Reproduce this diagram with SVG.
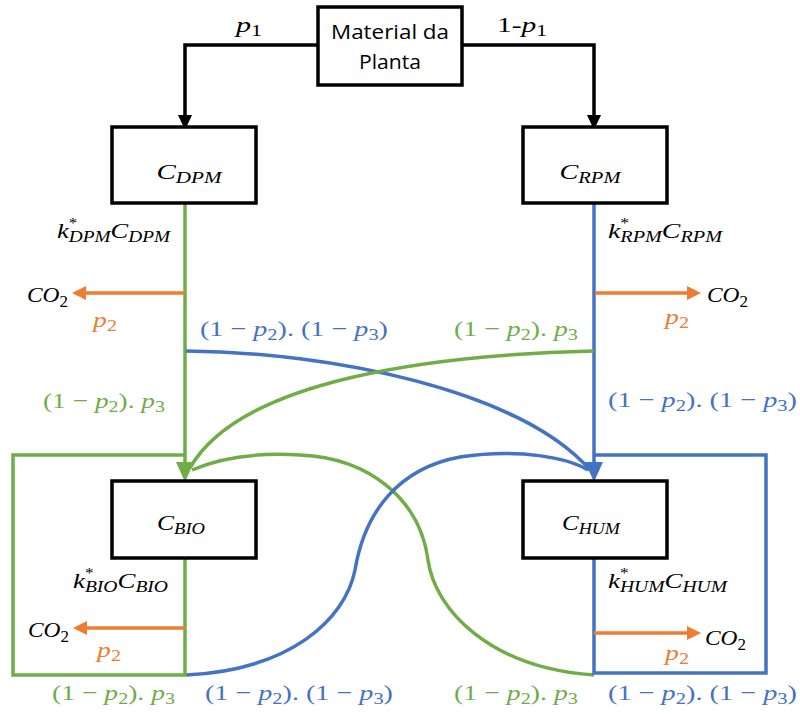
<svg xmlns="http://www.w3.org/2000/svg" width="800" height="715" viewBox="0 0 800 715">
<style>
.box{fill:#fff;stroke:#000;stroke-width:3.5}
.k{stroke:#000;stroke-width:3.5;fill:none}
.g{stroke:#70AD47;stroke-width:3.5;fill:none}
.b{stroke:#4472C4;stroke-width:3.5;fill:none}
.o{stroke:#ED7D31;stroke-width:3.5;fill:none}
.m{font-family:"Liberation Serif","DejaVu Serif",serif;font-style:italic;font-size:22px;fill:#000}
.sub{font-size:16px}
.st{font-size:14px;font-style:normal}
.up{font-style:normal}
.lg{fill:#70AD47}
.lb{fill:#4472C4}
.lo{fill:#ED7D31}
.t{font-family:"Open Sans","Liberation Sans",sans-serif;font-size:20px;fill:#000}
</style>
<g id="connectors">
<path class="k" d="M318,45 H185 V118"/>
<polygon points="185,130 178,115 192,115" fill="#000"/>
<path class="k" d="M462,45 H594 V118"/>
<polygon points="594,130 587,115 601,115" fill="#000"/>
<path class="g" d="M185,203 V470"/>
<path class="b" d="M594,203 V470"/>
<path class="b" d="M186,351 C330,352 520,390 590,470"/>
<path class="g" d="M594,351 C430,355 240,380 190,468"/>
<path class="g" d="M594,675 C490,668 435,610 428,560 C420,500 370,458 300,455 C250,452 215,460 192,470"/>
<path class="b" d="M186,675 C290,670 345,620 355,570 C365,510 400,468 460,457 C520,448 568,458 588,470"/>
<polygon points="185,482 176,462 194,462" fill="#70AD47"/>
<polygon points="594,482 585,462 603,462" fill="#4472C4"/>
<path class="g" d="M185,558 V675 H13 V455 H185"/>
<path class="b" d="M594,558 V673 H766 V455 H594"/>
<path class="o" d="M185,293 H84"/>
<polygon points="72,293 86,286 86,300" fill="#ED7D31"/>
<path class="o" d="M595,293 H688"/>
<polygon points="701,293 687,286 687,300" fill="#ED7D31"/>
<path class="o" d="M185,628 H84"/>
<polygon points="73,628 87,621 87,635" fill="#ED7D31"/>
<path class="o" d="M594,633 H688"/>
<polygon points="701,633 687,626 687,640" fill="#ED7D31"/>
</g>
<g id="material">
<rect class="box" x="318" y="7" width="144" height="78"/>
<text class="t" x="390" y="39" text-anchor="middle" textLength="118" lengthAdjust="spacingAndGlyphs">Material da</text>
<text class="t" x="390" y="69" text-anchor="middle" textLength="62" lengthAdjust="spacingAndGlyphs">Planta</text>
</g>
<g id="cdpm">
<rect class="box" x="112" y="127" width="144" height="76"/>
<text class="m" x="189" y="179" text-anchor="middle" textLength="65" lengthAdjust="spacingAndGlyphs">C<tspan class="sub" dy="4">DPM</tspan></text>
</g>
<g id="crpm">
<rect class="box" x="523" y="127" width="144" height="76"/>
<text class="m" x="590" y="179" text-anchor="middle" textLength="61" lengthAdjust="spacingAndGlyphs">C<tspan class="sub" dy="4">RPM</tspan></text>
</g>
<g id="cbio">
<rect class="box" x="112" y="481" width="144" height="77"/>
<text class="m" x="181" y="530" text-anchor="middle" textLength="48" lengthAdjust="spacingAndGlyphs">C<tspan class="sub" dy="4">BIO</tspan></text>
</g>
<g id="chum">
<rect class="box" x="523" y="481" width="144" height="77"/>
<text class="m" x="591" y="530" text-anchor="middle" textLength="58" lengthAdjust="spacingAndGlyphs">C<tspan class="sub" dy="4">HUM</tspan></text>
</g>
<g id="labels">
<text class="m" x="236" y="32" textLength="26" lengthAdjust="spacingAndGlyphs">p<tspan class="sub up" dy="4">1</tspan></text>
<text class="m" x="497" y="32" textLength="50" lengthAdjust="spacingAndGlyphs"><tspan class="up">1-</tspan>p<tspan class="sub up" dy="4">1</tspan></text>
<text class="m" x="57" y="238" textLength="113" lengthAdjust="spacingAndGlyphs">k<tspan class="st" dx="0" dy="-10">*</tspan><tspan class="sub" dx="-7" dy="14">DPM</tspan><tspan dy="-4">C</tspan><tspan class="sub" dy="4">DPM</tspan></text>
<text class="m" x="608" y="238" textLength="114" lengthAdjust="spacingAndGlyphs">k<tspan class="st" dx="0" dy="-10">*</tspan><tspan class="sub" dx="-7" dy="14">RPM</tspan><tspan dy="-4">C</tspan><tspan class="sub" dy="4">RPM</tspan></text>
<text class="m" x="73" y="588" textLength="95" lengthAdjust="spacingAndGlyphs">k<tspan class="st" dx="0" dy="-10">*</tspan><tspan class="sub" dx="-7" dy="14">BIO</tspan><tspan dy="-4">C</tspan><tspan class="sub" dy="4">BIO</tspan></text>
<text class="m" x="608" y="588" textLength="119" lengthAdjust="spacingAndGlyphs">k<tspan class="st" dx="0" dy="-10">*</tspan><tspan class="sub" dx="-7" dy="14">HUM</tspan><tspan dy="-4">C</tspan><tspan class="sub" dy="4">HUM</tspan></text>
<text class="m" x="27" y="302" textLength="41" lengthAdjust="spacingAndGlyphs">CO<tspan class="sub up" dy="5">2</tspan></text>
<text class="m" x="707" y="302" textLength="41" lengthAdjust="spacingAndGlyphs">CO<tspan class="sub up" dy="5">2</tspan></text>
<text class="m" x="28" y="637" textLength="41" lengthAdjust="spacingAndGlyphs">CO<tspan class="sub up" dy="5">2</tspan></text>
<text class="m" x="705" y="645" textLength="41" lengthAdjust="spacingAndGlyphs">CO<tspan class="sub up" dy="5">2</tspan></text>
<text class="m lo" x="93" y="327" textLength="24" lengthAdjust="spacingAndGlyphs">p<tspan class="sub up" dy="4">2</tspan></text>
<text class="m lo" x="665" y="324" textLength="24" lengthAdjust="spacingAndGlyphs">p<tspan class="sub up" dy="4">2</tspan></text>
<text class="m lo" x="97" y="657" textLength="24" lengthAdjust="spacingAndGlyphs">p<tspan class="sub up" dy="4">2</tspan></text>
<text class="m lo" x="665" y="660" textLength="24" lengthAdjust="spacingAndGlyphs">p<tspan class="sub up" dy="4">2</tspan></text>
<text class="m lb" x="200" y="336" textLength="188" lengthAdjust="spacingAndGlyphs"><tspan class="up">(1 − </tspan>p<tspan class="sub up" dy="4">2</tspan><tspan class="up" dy="-4">). (1 − </tspan>p<tspan class="sub up" dy="4">3</tspan><tspan class="up" dy="-4">)</tspan></text>
<text class="m lg" x="454" y="336" textLength="124" lengthAdjust="spacingAndGlyphs"><tspan class="up">(1 − </tspan>p<tspan class="sub up" dy="4">2</tspan><tspan class="up" dy="-4">). </tspan>p<tspan class="sub up" dy="4">3</tspan></text>
<text class="m lg" x="43" y="408" textLength="122" lengthAdjust="spacingAndGlyphs"><tspan class="up">(1 − </tspan>p<tspan class="sub up" dy="4">2</tspan><tspan class="up" dy="-4">). </tspan>p<tspan class="sub up" dy="4">3</tspan></text>
<text class="m lb" x="608" y="407" textLength="189" lengthAdjust="spacingAndGlyphs"><tspan class="up">(1 − </tspan>p<tspan class="sub up" dy="4">2</tspan><tspan class="up" dy="-4">). (1 − </tspan>p<tspan class="sub up" dy="4">3</tspan><tspan class="up" dy="-4">)</tspan></text>
<text class="m lg" x="52" y="700" textLength="123" lengthAdjust="spacingAndGlyphs"><tspan class="up">(1 − </tspan>p<tspan class="sub up" dy="4">2</tspan><tspan class="up" dy="-4">). </tspan>p<tspan class="sub up" dy="4">3</tspan></text>
<text class="m lb" x="205" y="700" textLength="188" lengthAdjust="spacingAndGlyphs"><tspan class="up">(1 − </tspan>p<tspan class="sub up" dy="4">2</tspan><tspan class="up" dy="-4">). (1 − </tspan>p<tspan class="sub up" dy="4">3</tspan><tspan class="up" dy="-4">)</tspan></text>
<text class="m lg" x="454" y="700" textLength="124" lengthAdjust="spacingAndGlyphs"><tspan class="up">(1 − </tspan>p<tspan class="sub up" dy="4">2</tspan><tspan class="up" dy="-4">). </tspan>p<tspan class="sub up" dy="4">3</tspan></text>
<text class="m lb" x="608" y="700" textLength="189" lengthAdjust="spacingAndGlyphs"><tspan class="up">(1 − </tspan>p<tspan class="sub up" dy="4">2</tspan><tspan class="up" dy="-4">). (1 − </tspan>p<tspan class="sub up" dy="4">3</tspan><tspan class="up" dy="-4">)</tspan></text>
</g>
</svg>
